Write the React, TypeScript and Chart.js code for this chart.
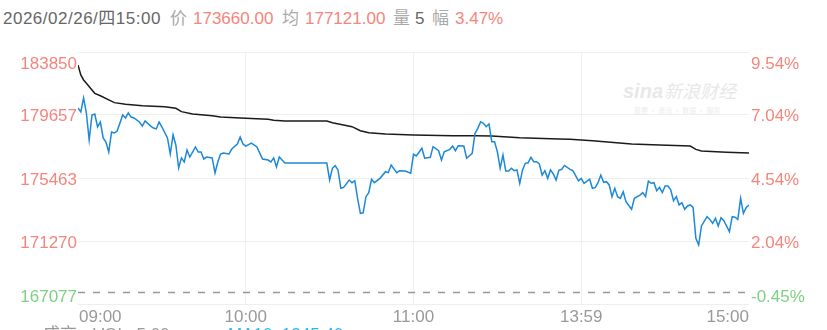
import React, { useEffect, useRef } from 'react';
import { Chart, registerables } from 'chart.js';

Chart.register(...registerables);

// ---- data ----
const headerTime = '2026/02/26/四15:00';
const headerPrice = '173660.00';
const headerAvg = '177121.00';
const headerVol = '5';
const headerChg = '3.47%';

const prevClose = 167838;
const yTickValues = [167077, 171270, 175463, 179657, 183850];
const yTickLabels = ['167077', '171270', '175463', '179657', '183850'];
const pctTickLabels = ['-0.45%', '2.04%', '4.54%', '7.04%', '9.54%'];
const xTickMinutes = [0, 60, 120, 180, 240];
const xTickLabels = ['09:00', '10:00', '11:00', '13:59', '15:00'];

// minute offsets from 09:00 (trading minutes) and last prices
const priceMinutes = [
  0, 1, 2, 3, 4, 5, 6, 7, 8, 9, 10, 11, 12, 13, 14, 16, 17, 18, 19, 20, 22, 23, 24, 26, 27, 28, 29, 30,
  32, 33, 34, 35, 36, 37, 38, 39, 40, 42, 43, 44, 45, 46, 48, 49, 50, 51, 52, 54, 55, 57, 58, 59, 60,
  62, 64, 66, 68, 69, 70, 71, 72, 73, 74, 89, 90, 91, 92, 93, 94, 95, 97, 98, 99, 100, 101, 102, 103,
  104, 105, 106, 108, 110, 111, 112, 114, 115, 117, 119, 120, 121, 123, 124, 126, 127, 129, 130, 131,
  133, 134, 135, 136, 138, 139, 141, 142, 143, 144, 145, 146, 147, 148, 149, 150, 151, 152, 153, 154,
  155, 156, 157, 158, 159, 160, 161, 162, 163, 164, 165, 166, 167, 168, 169, 170, 171, 172, 173, 174,
  176, 177, 179, 180, 181, 183, 184, 185, 186, 187, 188, 189, 190, 191, 192, 193, 194, 195, 196, 198,
  199, 201, 202, 203, 204, 205, 206, 207, 208, 209, 210, 211, 212, 213, 214, 215, 216, 217, 218, 219,
  220, 221, 222, 223, 225, 226, 227, 228, 229, 230, 231, 233, 234, 235, 236, 237, 238, 239, 240,
];
const prices = [
  180120, 179860, 180790, 179790, 177990, 179660, 179720, 178860, 179190, 178130, 177860, 177190,
  178530, 178460, 178590, 179660, 179460, 179790, 179520, 179460, 179190, 178920, 179260, 178920,
  178790, 178730, 179190, 178860, 178130, 177060, 178330, 177660, 176130, 176800, 176530, 177330,
  176860, 177530, 177190, 177190, 176730, 176860, 176800, 175800, 176530, 177060, 177130, 177060,
  177390, 177730, 178190, 177730, 177590, 177790, 177530, 176730, 176660, 176530, 176800, 176200,
  176860, 176660, 176460, 176460, 175330, 176110, 176280, 176000, 174780, 174840, 175330, 175150,
  175280, 174110, 173110, 173150, 174220, 174490, 175380, 175150, 175440, 175880, 175820, 176330,
  175820, 175950, 175930, 175780, 177040, 176930, 177440, 176780, 176840, 177550, 177280, 176660,
  177210, 177370, 177590, 177280, 177610, 177590, 176780, 177110, 178440, 178770, 179210, 179100,
  178880, 179060, 177880, 177880, 177210, 176110, 176990, 175930, 175930, 176110, 175950, 176000,
  175110, 176000, 176440, 176480, 176840, 176550, 176550, 176400, 175660, 175950, 175440, 176000,
  175730, 175330, 175980, 176040, 176300, 176040, 175950, 175280, 175440, 175110, 175380, 174780,
  174820, 175150, 175660, 175180, 175220, 175000, 174220, 174780, 174220, 174110, 174550, 173890,
  173380, 174110, 174330, 174490, 174220, 175260, 175110, 175150, 174620, 174840, 174490, 174930,
  174930, 174670, 173950, 174220, 173670, 173820, 173380, 173600, 173670, 173510, 171450, 171000,
  172270, 172890, 172710, 172450, 172780, 172270, 172820, 172620, 171890, 172890, 172850, 172710,
  174110, 173110, 173510, 173660,
];

const avgMinutes = [
  0, 1, 2, 3, 5, 6, 8, 11, 13, 17, 23, 31, 35, 37, 41, 48, 51, 60, 68, 70, 74, 89, 91, 95, 98, 101,
  104, 110, 120, 134, 142, 148, 158, 172, 176, 184, 198, 208, 219, 221, 223, 232, 240,
];
const avgPrices = [
  182990, 182320, 181990, 181770, 181320, 181100, 180940, 180660, 180480, 180370, 180280, 180210,
  180100, 179880, 179720, 179610, 179520, 179440, 179370, 179300, 179260, 179260, 179140, 178990,
  178880, 178610, 178480, 178390, 178330, 178280, 178280, 178260, 178150, 178060, 178040, 177950,
  177730, 177660, 177590, 177370, 177260, 177170, 177121,
];

const RED = '#f5857c';
const GREEN = '#7fd082';
const FONT = '"Liberation Sans", Arial, "Noto Sans CJK SC", sans-serif';

const labelsPlugin = {
  id: 'customLabels',
  beforeDatasetsDraw(chart: any) {
    const { ctx, chartArea } = chart;
    const y = chart.scales.y;
    const py = y.getPixelForValue(prevClose);
    ctx.save();
    ctx.strokeStyle = '#999999';
    ctx.lineWidth = 1.5;
    ctx.setLineDash([7, 8]);
    ctx.beginPath();
    ctx.moveTo(chartArea.left, py);
    ctx.lineTo(chartArea.right - 2, py);
    ctx.stroke();
    ctx.restore();
  },
  afterDraw(chart: any) {
    const { ctx, chartArea } = chart;
    const y = chart.scales.y;
    const x = chart.scales.x;
    ctx.save();
    ctx.font = '17px ' + FONT;
    ctx.textBaseline = 'alphabetic';
    const n = yTickValues.length;
    yTickValues.forEach((v, i) => {
      let cy = y.getPixelForValue(v) + 0.5;
      if (i === n - 1) cy = chartArea.top + 10.5;
      if (i === 0) cy = chartArea.bottom - 8.5;
      const color = v < prevClose ? GREEN : RED;
      ctx.fillStyle = color;
      ctx.textAlign = 'right';
      ctx.fillText(yTickLabels[i], chartArea.left - 1, cy + 6);
      ctx.textAlign = 'left';
      ctx.fillText(pctTickLabels[i], chartArea.right + 2, cy + 6);
    });
    ctx.fillStyle = '#999999';
    xTickMinutes.forEach((m, i) => {
      const px = x.getPixelForValue(m);
      ctx.textAlign = i === 0 ? 'left' : i === xTickMinutes.length - 1 ? 'right' : 'center';
      ctx.fillText(xTickLabels[i], i === 0 ? px + 1 : px, 322);
    });
    ctx.restore();
  },
};

export default function App() {
  const ref = useRef<HTMLCanvasElement | null>(null);

  useEffect(() => {
    if (!ref.current) return;
    const chart = new Chart(ref.current, {
      type: 'line',
      data: {
        datasets: [
          {
            data: priceMinutes.map((m, i) => ({ x: m, y: prices[i] })),
            borderColor: '#1c88d8',
            borderWidth: 1.5,
            pointRadius: 0,
            tension: 0,
          },
          {
            data: avgMinutes.map((m, i) => ({ x: m, y: avgPrices[i] })),
            borderColor: '#1b1b1b',
            borderWidth: 1.5,
            pointRadius: 0,
            tension: 0,
          },
        ],
      },
      options: {
        animation: false,
        responsive: false,
        maintainAspectRatio: false,
        layout: { padding: { left: 78, right: 78, top: 52, bottom: 26 } },
        plugins: { legend: { display: false }, tooltip: { enabled: false } },
        scales: {
          x: {
            type: 'linear',
            min: 0,
            max: 240,
            afterBuildTicks: (s: any) => {
              s.ticks = [60, 120, 180].map((v) => ({ value: v }));
            },
            ticks: { display: false },
            grid: { color: '#f0f0f0', drawTicks: false, lineWidth: 1 },
            border: { display: false },
          },
          y: {
            type: 'linear',
            min: yTickValues[0],
            max: yTickValues[yTickValues.length - 1],
            afterBuildTicks: (s: any) => {
              s.ticks = yTickValues.map((v) => ({ value: v }));
            },
            ticks: { display: false },
            grid: { color: '#eeeeee', drawTicks: false, lineWidth: 1 },
            border: { display: false },
          },
        },
      },
      plugins: [labelsPlugin],
    } as any);
    return () => chart.destroy();
  }, []);

  const span = (left: number, text: string, color: string, extra: any = {}) => (
    <span style={{ position: 'absolute', left, top: 0, color, whiteSpace: 'nowrap', ...extra }}>{text}</span>
  );

  return (
    <div
      style={{
        position: 'absolute',
        left: 0,
        top: 0,
        width: 827,
        height: 330,
        overflow: 'hidden',
        background: '#ffffff',
        fontFamily: FONT,
      }}
    >
      {/* watermark */}
      <div style={{ position: 'absolute', left: 623, top: 80, lineHeight: '20px', color: '#e8e8e8', whiteSpace: 'nowrap' }}>
        <span style={{ fontSize: 20, fontWeight: 700, fontStyle: 'italic', fontFamily: 'Arial, sans-serif' }}>sina</span>
        <span style={{ fontSize: 18, fontStyle: 'italic', marginLeft: 1, fontFamily: '"Noto Sans CJK SC", sans-serif' }}>新浪财经</span>
      </div>
      <div style={{ position: 'absolute', left: 634, top: 105, fontSize: 7, color: '#ececec', whiteSpace: 'nowrap', fontFamily: '"Noto Sans CJK SC", sans-serif' }}>
        股票 · 资讯 · 数据 · 服务
      </div>

      {/* header */}
      <div style={{ position: 'absolute', left: 0, top: 9, fontSize: 17, lineHeight: '20px', width: 827, height: 20 }}>
        {span(3, headerTime, '#666666', { letterSpacing: '0.5px' })}
        {span(170, '价', '#aaaaaa')}
        {span(193, headerPrice, RED)}
        {span(282, '均', '#aaaaaa')}
        {span(305, headerAvg, RED)}
        {span(393, '量', '#aaaaaa')}
        {span(415, headerVol, '#666666')}
        {span(432, '幅', '#aaaaaa')}
        {span(455, headerChg, RED)}
      </div>

      <canvas ref={ref} width={827} height={330} style={{ position: 'absolute', left: 0, top: 0, width: 827, height: 330 }} />

      {/* bottom cut-off volume legend */}
      <div style={{ position: 'absolute', left: 0, top: 325, fontSize: 17, lineHeight: '20px', width: 827, height: 20 }}>
        {span(43, '成交', '#999999')}
        {span(93, 'VOL: 5.00', '#999999')}
        {span(228, 'MA10: 1245.40', '#2ab8e8')}
      </div>
    </div>
  );
}
